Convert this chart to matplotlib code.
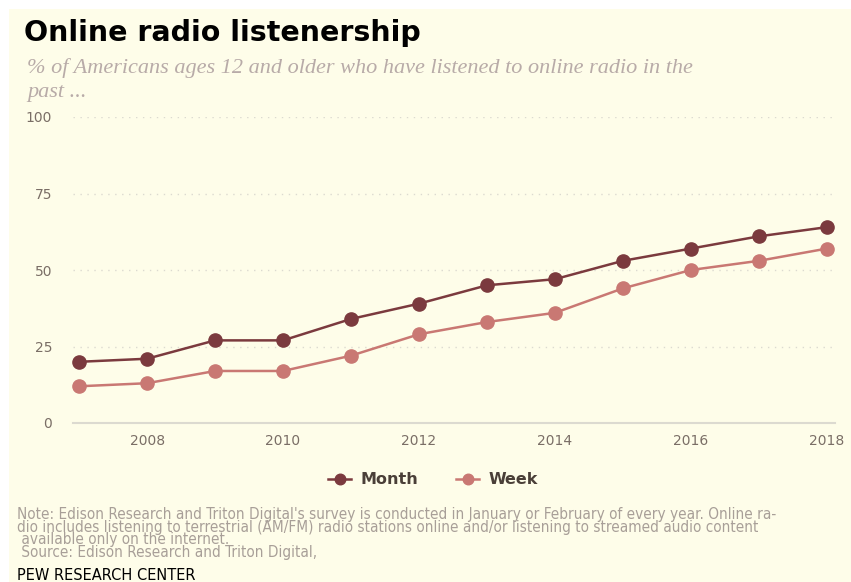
import matplotlib
matplotlib.use("Agg")
import matplotlib.pyplot as plt
from matplotlib.patches import Rectangle

years = [2007, 2008, 2009, 2010, 2011, 2012, 2013, 2014, 2015, 2016, 2017, 2018]
month = [20, 21, 27, 27, 34, 39, 45, 47, 53, 57, 61, 64]
week = [12, 13, 17, 17, 22, 29, 33, 36, 44, 50, 53, 57]
xticks = [2008, 2010, 2012, 2014, 2016, 2018]
yticks = [0, 25, 50, 75, 100]

W, H = 851, 582
fig = plt.figure(figsize=(W / 100, H / 100), dpi=100)
fig.patch.set_facecolor("white")
fig.add_artist(Rectangle((9 / W, 0), 1 - 9 / W, 1 - 9 / H, transform=fig.transFigure,
                         facecolor="#fefde9", edgecolor="none", zorder=0))

ax = fig.add_axes([73 / W, 1 - 423 / H, (835 - 73) / W, (423 - 117) / H])
ax.set_facecolor("none")
c_month = "#7b3a3e"
c_week = "#c97873"
ax.plot(years, month, color=c_month, lw=1.8, marker="o", ms=9.5, label="Month", clip_on=False, zorder=3)
ax.plot(years, week, color=c_week, lw=1.8, marker="o", ms=9.5, label="Week", clip_on=False, zorder=3)

ax.set_xlim(2006.91, 2018.12)
ax.set_ylim(0, 100)
ax.set_xticks(xticks)
ax.set_yticks(yticks)
for s in ["top", "right", "left"]:
    ax.spines[s].set_visible(False)
ax.spines["bottom"].set_color("#dcdad0")
ax.spines["bottom"].set_linewidth(1.5)
ax.tick_params(axis="both", length=0, labelsize=10, labelcolor="#7a6e66")
ax.tick_params(axis="x", pad=8)
ax.tick_params(axis="y", pad=15)
for y in yticks[1:]:
    ax.axhline(y, color="#dcdad0", lw=1, ls=(0, (1, 4)), zorder=1)

leg = ax.legend(loc="center", bbox_to_anchor=(433 / W, 1 - 480 / H), bbox_transform=fig.transFigure,
                ncol=2, frameon=False, handlelength=1.4, columnspacing=2.4, handletextpad=0.6,
                markerscale=0.8, prop={"weight": "bold", "size": 11.5})
for t in leg.get_texts():
    t.set_color("#4a3f38")

fig.text(24 / W, 1 - 33 / H, "Online radio listenership", fontsize=20.5, fontweight="bold",
         color="black", va="center", ha="left")
fig.text(27 / W, 1 - 68 / H, "% of Americans ages 12 and older who have listened to online radio in the",
         fontsize=16, style="italic", family="Liberation Serif", color="#b8aba8", va="center")
fig.text(27 / W, 1 - 92 / H, "past ...",
         fontsize=16, style="italic", family="Liberation Serif", color="#b8aba8", va="center")

note = ("Note: Edison Research and Triton Digital's survey is conducted in January or February of every year. Online ra-\n"
        "dio includes listening to terrestrial (AM/FM) radio stations online and/or listening to streamed audio content\n"
        " available only on the internet.\n"
        " Source: Edison Research and Triton Digital,")
fig.text(17 / W, 1 - 507 / H, note, fontsize=11, family="DejaVu Sans", fontstretch="condensed",
         color="#a89f98", va="top", ha="left", linespacing=0.8)
fig.text(17 / W, 1 - 576 / H, "PEW RESEARCH CENTER", fontsize=11.7, family="DejaVu Sans", fontstretch="condensed",
         color="black", va="center", ha="left")

fig.savefig("out.png", dpi=100, facecolor=fig.get_facecolor())
